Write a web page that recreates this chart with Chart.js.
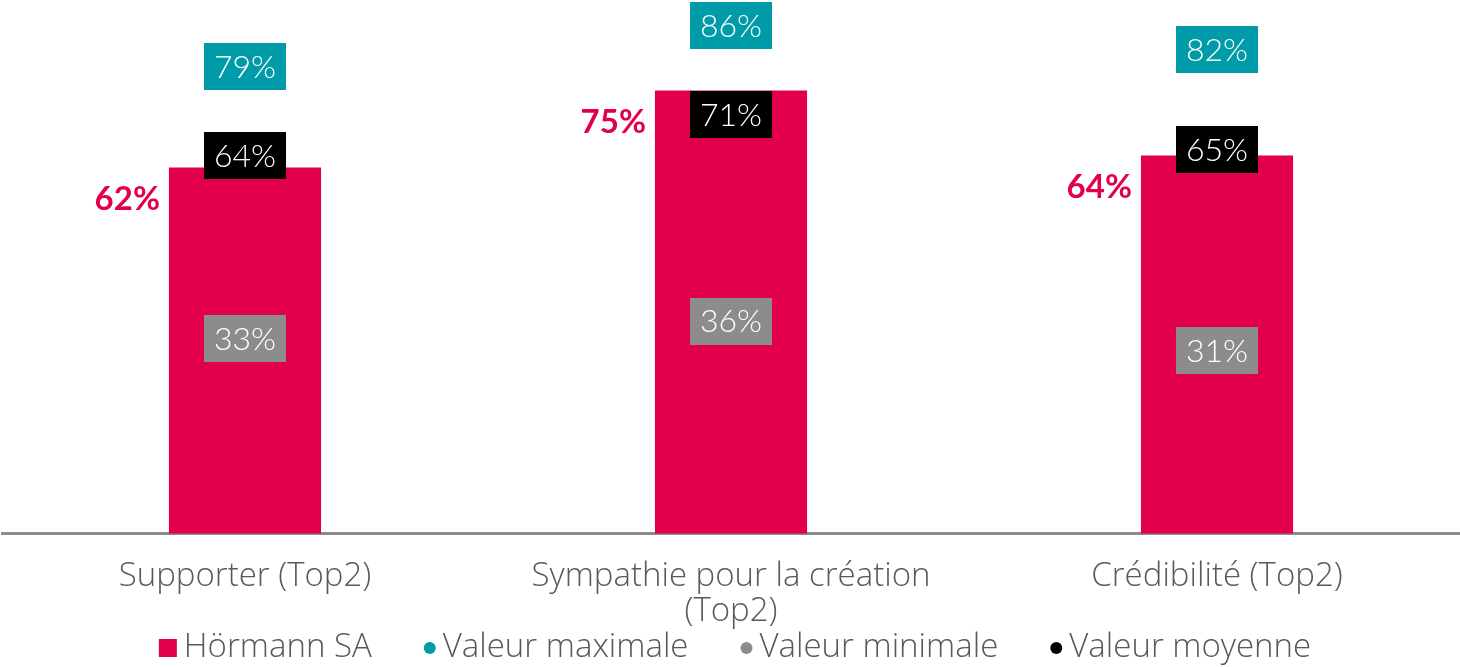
<!DOCTYPE html>
<html>
<head>
<meta charset="utf-8">
<script src="https://cdn.jsdelivr.net/npm/chart.js@4"></script>
<style>
  html, body { margin: 0; padding: 0; background: #fff; }
  #wrap { width: 1460px; height: 667px; }
</style>
</head>
<body>
<div id="wrap"><canvas id="chart"></canvas></div>
<script>
const categories = ['Supporter (Top2)', ['Sympathie pour la création', '(Top2)'], 'Crédibilité (Top2)'];
const hormannValues = [62, 75, 64];
const maxValues = [79, 86, 82];
const minValues = [33, 36, 31];
const avgValues = [64, 71, 65];
const seriesNames = ['Hörmann SA', 'Valeur maximale', 'Valeur minimale', 'Valeur moyenne'];

const RED = '#e2004a';
const TEAL = '#009ba8';
const GREY = '#8c8c8c';
const BLACK = '#000000';
const TEXT_GREY = '#595959';
const LABEL_FONT = '"Open Sans", "Noto Sans", sans-serif';
const BOX_FONT = 'Lato, "Noto Sans", sans-serif';

function pointSeries(label, data, color) {
  return {
    type: 'line',
    label: label,
    data: data,
    backgroundColor: color,
    borderColor: color,
    showLine: false,
    pointRadius: 0,
    pointHoverRadius: 0
  };
}

// draws the value boxes and the red bar values
const valueLabels = {
  id: 'valueLabels',
  afterDatasetsDraw(chart) {
    const ctx = chart.ctx;
    ctx.save();
    chart.data.datasets.forEach((ds, i) => {
      const meta = chart.getDatasetMeta(i);
      if (meta.hidden) return;
      meta.data.forEach((el, j) => {
        const text = ds.data[j] + '%';
        if (meta.type === 'bar') {
          ctx.font = 'bold 33px ' + BOX_FONT;
          ctx.fillStyle = RED;
          ctx.textAlign = 'right';
          ctx.textBaseline = 'middle';
          ctx.fillText(text, el.x - el.width / 2 - 9, el.y + 32);
        } else {
          ctx.font = '300 32px ' + BOX_FONT;
          const w = ctx.measureText(text).width + 20;
          const h = 47;
          ctx.fillStyle = ds.backgroundColor;
          ctx.fillRect(Math.round(el.x - w / 2), Math.round(el.y - h / 2), Math.round(w), h);
          ctx.fillStyle = '#ffffff';
          ctx.textAlign = 'center';
          ctx.textBaseline = 'middle';
          ctx.fillText(text, el.x, el.y + 1);
        }
      });
    });
    ctx.restore();
  }
};

// legend row at the bottom
const bottomLegend = {
  id: 'bottomLegend',
  afterDraw(chart) {
    const ctx = chart.ctx;
    const y = 648;
    const gap = 7;
    const spacing = 52;
    ctx.save();
    ctx.font = '300 33px ' + LABEL_FONT;
    const items = chart.data.datasets.map(ds => {
      const isBar = (ds.type || chart.config.type) === 'bar';
      const size = isBar ? 18 : 12;
      return { ds, isBar, size, tw: ctx.measureText(ds.label).width };
    });
    let total = 0;
    items.forEach((it, k) => {
      total += it.size + gap + it.tw + (k < items.length - 1 ? spacing : 0);
    });
    let x = 735 - total / 2;
    items.forEach(it => {
      ctx.fillStyle = it.ds.backgroundColor;
      if (it.isBar) {
        ctx.fillRect(x, y - it.size / 2, it.size, it.size);
      } else {
        ctx.beginPath();
        ctx.arc(x + it.size / 2, y, it.size / 2, 0, Math.PI * 2);
        ctx.fill();
      }
      x += it.size + gap;
      ctx.fillStyle = TEXT_GREY;
      ctx.textAlign = 'left';
      ctx.textBaseline = 'middle';
      ctx.fillText(it.ds.label, x, y);
      x += it.tw + spacing;
    });
    ctx.restore();
  }
};

new Chart(document.getElementById('chart'), {
  type: 'bar',
  data: {
    labels: categories,
    datasets: [
      {
        label: seriesNames[0],
        data: hormannValues,
        backgroundColor: RED,
        categoryPercentage: 0.313,
        barPercentage: 1,
        order: 2
      },
      pointSeries(seriesNames[1], maxValues, TEAL),
      pointSeries(seriesNames[2], minValues, GREY),
      pointSeries(seriesNames[3], avgValues, BLACK)
    ]
  },
  options: {
    responsive: true,
    maintainAspectRatio: false,
    animation: false,
    layout: { padding: { left: 2, right: 0, top: 2, bottom: 12 } },
    plugins: {
      legend: { display: false },
      tooltip: { enabled: false }
    },
    scales: {
      x: {
        grid: { display: false, drawTicks: false },
        border: { display: true, color: GREY, width: 3 },
        ticks: {
          color: TEXT_GREY,
          font: { family: LABEL_FONT, size: 33, weight: 300, lineHeight: 1.05 },
          padding: 26,
          maxRotation: 0,
          autoSkip: false
        }
      },
      y: {
        display: false,
        min: 0,
        max: 90
      }
    }
  },
  plugins: [valueLabels, bottomLegend]
});
</script>
</body>
</html>
